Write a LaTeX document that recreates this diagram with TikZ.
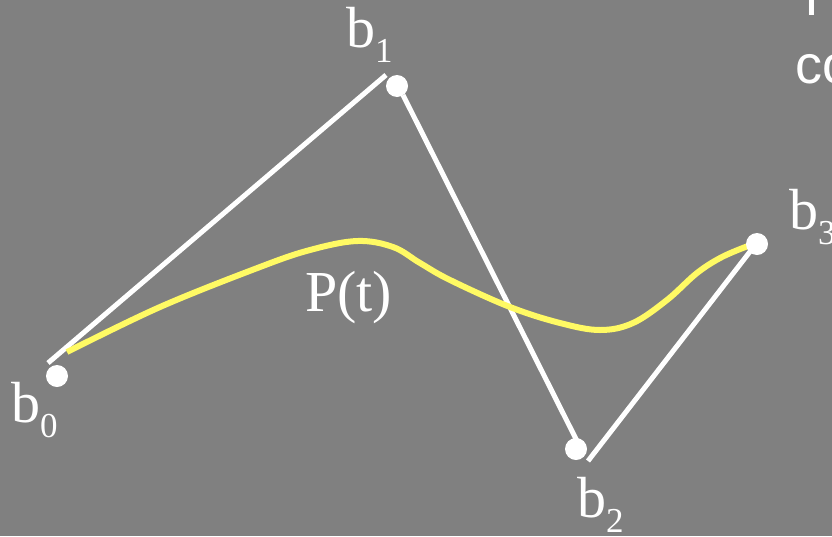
\documentclass[tikz,border=0pt]{standalone}
\usepackage{fontspec}
\setmainfont{Liberation Serif}
\newfontfamily\sansf{Liberation Sans}
\definecolor{bg}{RGB}{128,128,128}
\definecolor{curvey}{RGB}{255,250,100}
\newcommand\lblsub[2]{#1\raisebox{-15pt}{\fontsize{35}{35}\selectfont #2}}
\begin{document}
\begin{tikzpicture}[x=1pt,y=-1pt,
  dot/.style={circle,fill=white,minimum size=22pt,inner sep=0pt},
  poly/.style={white,line width=5pt},
  bez/.style={curvey,line width=6pt},
  lab/.style={anchor=base west,inner sep=0pt,text=white,font=\fontsize{58}{58}\selectfont},
  side/.style={anchor=base west,inner sep=0pt,text=white,font=\sansf\fontsize{54}{64}\selectfont}]
\useasboundingbox (0,0) rectangle (832,536);
\clip (0,0) rectangle (832,536);
\fill[bg] (0,0) rectangle (832,536);
% control polygon
\coordinate (s1a) at (48,363);
\coordinate (s1b) at (386,75);
\coordinate (s2a) at (403,95);
\coordinate (s2b) at (578,443);
\coordinate (s3a) at (588,461);
\coordinate (s3b) at (752,249);
\draw[poly] (s1a) -- (s1b);
\draw[poly] (s2a) -- (s2b);
\draw[poly] (s3a) -- (s3b);
% curve
\draw[bez] plot[smooth,tension=0.6] coordinates {(67,352) (160,307) (260,267) (310,250) (357,241) (393,247) (420,263) (450,280) (510,307) (560,323) (600,330) (633,323) (667,300) (697,273) (722,257) (748,246)};
% points
\node[dot] (b0) at (57,376) {};
\node[dot] (b1) at (397,86) {};
\node[dot] (b2) at (576,449) {};
\node[dot] (b3) at (757,244) {};
% labels
\node[lab] (l0) at (11,422) {\lblsub{b}{0}};
\node[lab] (l1) at (346,47) {\lblsub{b}{1}};
\node[lab] (l2) at (577,517) {\lblsub{b}{2}};
\node[lab] (l3) at (789,229) {\lblsub{b}{3}};
\node[lab] (pt) at (305,311) {P(t)};
% side text (cut off)
\node[side] (t1) at (795,15) {T};
\node[side] (t2) at (795,83) {co};
\end{tikzpicture}
\end{document}
